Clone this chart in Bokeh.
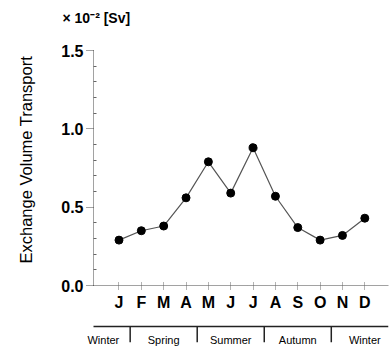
from bokeh.plotting import figure
from bokeh.models import (Range1d, LinearAxis, FixedTicker, PrintfTickFormatter, Title)
from bokeh.embed import file_html
from bokeh.resources import INLINE

# ---- data ----
months = ["J", "F", "M", "A", "M", "J", "J", "A", "S", "O", "N", "D"]
month_idx = list(range(1, 13))
transport = [0.29, 0.35, 0.38, 0.56, 0.79, 0.59, 0.88, 0.57, 0.37, 0.29, 0.32, 0.43]
y_ticks = [0.0, 0.5, 1.0, 1.5]
seasons = ["Winter", "Spring", "Summer", "Autumn", "Winter"]
season_centers = [0.3, 3, 6, 9, 12]
season_bounds = [1.5, 4.5, 7.5, 10.5]
unit_label = "\u00d7 10\u207b\u00b2 [Sv]"
y_title = "Exchange Volume Transport"

FONT = "Liberation Sans"

X0, X1 = -2.065, 13.06      # plot frame in month units
AX = -0.141                 # where the value axis sits
Y0, Y1 = -0.389, 1.628

p = figure(width=390, height=346,
           x_range=Range1d(X0, X1), y_range=Range1d(Y0, Y1),
           output_backend="svg", toolbar_location=None,
           x_axis_location=None, y_axis_location=None,
           min_border_left=50, min_border_right=2, min_border_top=30, min_border_bottom=0)
p.outline_line_color = None
p.grid.visible = False
p.background_fill_color = "white"
p.border_fill_color = "white"

p.title.text = unit_label
p.title.text_font = FONT
p.title.text_font_size = "14px"
p.title.text_font_style = "bold"
p.title.text_color = "black"
p.title.align = "left"
p.title.offset = 12
p.title.standoff = 10

# value-axis title, drawn as a side title so it can sit off-centre
ytitle = Title(text=y_title, align="left", offset=83, vertical_align="top",
               standoff=28, text_font=FONT, text_font_size="16.5px",
               text_font_style="normal", text_color="black")
p.add_layout(ytitle, "left")

minor = [round(0.1 * i, 1) for i in range(16) if i % 5]
yaxis = LinearAxis(fixed_location=AX, bounds=(0, 1.5),
                   ticker=FixedTicker(ticks=y_ticks, minor_ticks=minor),
                   formatter=PrintfTickFormatter(format="%.1f"))
yaxis.major_label_text_font = FONT
yaxis.major_label_text_font_size = "16px"
yaxis.major_label_text_font_style = "bold"
yaxis.major_label_text_color = "black"
yaxis.major_label_standoff = 3
yaxis.axis_line_color = "#444"
yaxis.axis_line_dash = "1 1"
yaxis.major_tick_line_color = "#444"
yaxis.major_tick_line_dash = "1 1"
yaxis.major_tick_in = 0
yaxis.major_tick_out = 7
yaxis.minor_tick_line_color = "#666"
yaxis.minor_tick_in = 3
yaxis.minor_tick_out = 0
p.add_layout(yaxis, "left")

xaxis = LinearAxis(fixed_location=0, bounds=(AX, X1),
                   ticker=FixedTicker(ticks=month_idx),
                   major_label_overrides={i: m for i, m in zip(month_idx, months)})
xaxis.major_label_text_font = FONT
xaxis.major_label_text_font_size = "16px"
xaxis.major_label_text_font_style = "bold"
xaxis.major_label_text_color = "black"
xaxis.major_label_standoff = 4
xaxis.axis_line_color = "#444"
xaxis.axis_line_dash = "1 1"
xaxis.major_tick_line_color = "#666"
xaxis.major_tick_line_dash = "1 1"
xaxis.major_tick_in = 3
xaxis.major_tick_out = 4
xaxis.minor_tick_line_color = None
p.add_layout(xaxis, "below")

# season bar (an axis fixed below the month labels)
season_y = -0.262
saxis = LinearAxis(fixed_location=season_y, bounds=(AX, X1),
                   ticker=FixedTicker(ticks=season_centers),
                   major_label_overrides={c: s for c, s in zip(season_centers, seasons)})
saxis.major_label_text_font = FONT
saxis.major_label_text_font_size = "11px"
saxis.major_label_text_font_style = "normal"
saxis.major_label_text_color = "black"
saxis.major_label_standoff = 1
saxis.axis_line_color = "#222"
saxis.axis_line_width = 1.5
saxis.major_tick_line_color = None
saxis.minor_tick_line_color = None
p.add_layout(saxis, "below")

p.segment(x0=season_bounds, x1=season_bounds, y0=[season_y] * len(season_bounds),
          y1=[season_y - 0.1] * len(season_bounds), line_color="#222", line_width=1.5)

p.line(month_idx, transport, line_color="#555", line_width=1.2)
p.scatter(month_idx, transport, size=8, color="black")

open("out.html", "w").write(file_html(p, INLINE))
